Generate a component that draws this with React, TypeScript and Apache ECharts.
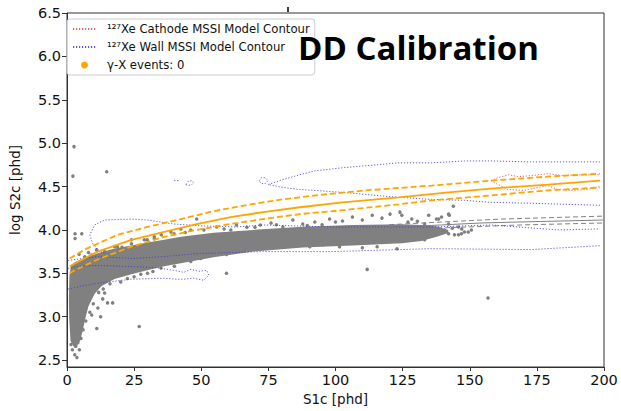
import React, { useEffect, useRef } from "react";
import * as echarts from "echarts";

// ---------- data (S1c [phd], log S2c [phd]) ----------
const xTicks = [0, 25, 50, 75, 100, 125, 150, 175, 200];
const yTicks = [2.5, 3.0, 3.5, 4.0, 4.5, 5.0, 5.5, 6.0, 6.5];

const CATHODE = "¹²⁷Xe Cathode MSSI Model Contour";
const WALL = "¹²⁷Xe Wall MSSI Model Contour";
const GAMMA = "γ-X events: 0";

// orange model band (median and ±)
const orangeMid = [
  [1.0, 3.58], [2.2, 3.602], [11.4, 3.75], [24.0, 3.886], [36.2, 3.977], [48.3, 4.068],
  [60.9, 4.148], [73.1, 4.205], [86.7, 4.261], [102.6, 4.318], [123.6, 4.375],
  [142.1, 4.432], [157.9, 4.477], [179.0, 4.523], [198.5, 4.568],
];
const orangeUp = [
  [1.0, 3.67], [2.2, 3.693], [6.6, 3.773], [11.4, 3.841], [18.8, 3.943], [29.9, 4.034],
  [42.4, 4.125], [54.6, 4.216], [68.3, 4.295], [80.4, 4.352], [92.6, 4.398],
  [111.1, 4.455], [135.8, 4.511], [157.9, 4.568], [179.0, 4.614], [198.5, 4.648],
];
const orangeLow = [
  [1.0, 3.5], [2.2, 3.523], [11.4, 3.659], [24.0, 3.807], [36.2, 3.92], [48.3, 4.0],
  [60.9, 4.068], [73.1, 4.125], [86.7, 4.182], [102.6, 4.227], [123.6, 4.295],
  [135.8, 4.341], [157.9, 4.398], [179.0, 4.455], [198.5, 4.489],
];

// gray model band
const grayMid = [[120, 4.03], [139.5, 4.057], [154.2, 4.08], [176.4, 4.097], [199.6, 4.114]];
const grayUp = [[120, 4.06], [139.5, 4.091], [161.6, 4.125], [199.6, 4.159]];
const grayLow = [[120, 4.0], [139.5, 4.023], [169.0, 4.057], [199.6, 4.08]];

// Wall contours (blue)
const wallA = [
  [198.5, 4.284], [172.7, 4.307], [157.9, 4.318], [148.0, 4.341], [135.8, 4.352],
  [123.6, 4.375], [111.1, 4.409], [102.6, 4.432], [92.6, 4.455], [86.7, 4.466],
  [80.4, 4.489], [74.9, 4.523], [80.4, 4.58], [86.7, 4.636], [92.6, 4.682],
  [102.6, 4.716], [111.1, 4.739], [123.6, 4.773], [135.8, 4.773], [148.0, 4.795],
  [157.9, 4.795], [172.7, 4.784], [198.5, 4.784],
];
const wallA2 = [
  [71.6, 4.568], [72.3, 4.602], [73.8, 4.602], [74.9, 4.568], [73.8, 4.534], [72.3, 4.534], [71.6, 4.568],
];
const wallBits1 = [[39.9, 4.568], [41.7, 4.568]];
const wallBits2 = [
  [44.3, 4.523], [45.0, 4.557], [46.5, 4.568], [47.2, 4.545], [46.5, 4.523], [45.0, 4.511], [44.3, 4.523],
];
const wallBTop = [
  [14.0, 3.727], [11.4, 3.773], [9.6, 3.841], [8.5, 3.943], [10.3, 4.057], [14.0, 4.114],
  [24.0, 4.125], [29.9, 4.114], [39.9, 4.068], [50.9, 4.045], [63.1, 4.034], [73.1, 4.057],
  [98.9, 4.034], [135.8, 4.034], [157.9, 4.057], [182.7, 4.0], [198.5, 4.011],
];
const wallBBottom = [
  [0.4, 3.648], [11.4, 3.693], [24.0, 3.67], [36.2, 3.693], [48.3, 3.727], [73.1, 3.75],
  [98.9, 3.75], [135.8, 3.784], [172.7, 3.773], [198.5, 3.818],
];
const wallC = [
  [0.4, 3.318], [5.5, 3.352], [11.4, 3.386], [24.0, 3.432], [36.2, 3.443], [40.6, 3.432],
  [43.5, 3.432], [47.2, 3.443], [50.9, 3.42], [52.8, 3.477], [52.0, 3.534], [49.1, 3.523],
  [46.1, 3.545], [43.5, 3.511], [39.9, 3.534], [32.5, 3.568], [21.4, 3.58], [10.3, 3.591],
  [4.8, 3.58], [0.4, 3.557],
];

// Cathode contours (red)
const cathodeUp = [
  [157.9, 4.568], [160.5, 4.602], [164.6, 4.636], [167.9, 4.614], [172.7, 4.625],
  [179.0, 4.648], [184.9, 4.625], [191.1, 4.636], [198.5, 4.636],
];
const cathodeLow = [
  [157.9, 4.568], [160.5, 4.523], [164.2, 4.466], [170.1, 4.455], [175.3, 4.489],
  [179.0, 4.511], [182.7, 4.466], [187.5, 4.455], [193.7, 4.466], [198.5, 4.5],
];

// dense DD event band (outline), upper edge left→right, lower edge right→left
const bandUpper = [
  [0.7, 3.2], [0.9, 3.466], [1.4, 3.58], [3.0, 3.63], [6.6, 3.675], [11.4, 3.73],
  [17.7, 3.786], [24.0, 3.82], [29.9, 3.855], [36.2, 3.888], [42.4, 3.92], [54.6, 3.966],
  [69.4, 4.0], [87.8, 4.036], [106.3, 4.058], [124.7, 4.066], [132.0, 4.058], [138.0, 4.04],
  [142.0, 4.0],
];
const bandLower = [
  [142.0, 3.965], [138.0, 3.925], [132.0, 3.872], [124.7, 3.845], [106.3, 3.82], [87.8, 3.797],
  [69.4, 3.752], [54.6, 3.684], [42.4, 3.616], [36.2, 3.582], [29.9, 3.536], [24.0, 3.49],
  [17.7, 3.435], [12.9, 3.355], [10.3, 3.265], [8.0, 3.12], [6.8, 2.98], [5.8, 2.83],
  [4.6, 2.7], [2.8, 2.64], [1.3, 2.72], [0.8, 3.0],
];

// individual DD events around the band
const ddPoints = [
  [2.6, 4.96], [2.2, 4.62], [14.8, 4.67], [3.0, 3.955], [5.5, 3.955], [3.0, 3.9],
  [6.6, 3.69], [9.0, 3.71], [14.0, 3.75], [17.7, 3.81], [20.5, 3.8], [24.0, 3.84],
  [24.0, 3.886], [18.8, 3.807], [15.1, 3.727], [28.8, 3.886], [29.9, 3.886], [32.5, 3.92],
  [32.5, 3.898], [35.1, 3.943], [38.7, 3.977], [39.9, 3.955], [42.4, 4.011], [46.1, 4.0],
  [48.3, 4.125], [44.0, 3.97], [51.0, 4.0], [4.5, 3.72], [8.0, 3.74], [11.0, 3.77],
  [55.7, 4.034], [63.1, 4.057], [58.5, 4.01], [67.0, 4.03], [72.0, 4.057], [76.0, 4.08],
  [80.4, 4.034], [84.1, 4.114], [87.8, 4.068], [92.3, 4.091], [97.8, 4.125], [100.0, 4.091],
  [95.0, 4.06], [61.0, 4.0], [70.0, 4.03], [78.0, 4.06], [89.5, 4.05],
  [102.6, 4.102], [106.3, 4.148], [110.0, 4.114], [113.7, 4.17], [117.3, 4.136],
  [120.3, 4.182], [124.0, 4.205], [124.7, 4.17], [128.4, 4.125], [133.2, 4.068],
  [134.7, 4.17], [137.6, 4.125], [138.4, 4.125], [139.5, 4.148], [142.1, 4.182],
  [142.4, 4.17], [143.9, 4.273], [142.1, 4.068], [145.8, 4.034], [140.6, 4.0],
  [148.0, 3.977], [150.6, 4.0], [149.4, 3.977], [144.3, 3.943], [145.8, 3.943],
  [146.9, 3.955], [136.9, 3.955], [142.1, 3.955], [133.2, 3.886], [122.9, 3.784],
  [115.5, 3.807], [110.0, 3.795], [101.5, 3.807], [127.0, 4.09], [130.5, 4.1],
  [143.5, 4.02], [147.0, 4.01], [139.0, 3.97],
  [95.2, 3.83], [90.4, 3.807], [80.4, 3.807], [69.4, 3.784], [65.7, 3.773], [59.4, 3.716],
  [55.7, 3.727], [49.8, 3.67], [46.1, 3.636], [44.6, 3.693], [40.0, 3.58], [35.0, 3.56],
  [30.0, 3.5], [25.0, 3.46], [20.0, 3.4], [16.0, 3.38], [22.5, 3.44], [27.5, 3.49],
  [32.0, 3.52], [13.5, 3.32], [11.8, 3.28],
  [59.4, 3.5], [111.8, 3.545], [156.8, 3.216],
  [13.3, 3.205], [15.1, 3.159], [17.0, 3.159], [14.0, 3.273], [11.1, 2.864], [26.9, 2.886],
  [11.5, 3.1], [12.5, 3.0], [9.8, 3.15],
  [2.9, 2.56], [3.7, 2.53], [4.6, 2.62], [3.3, 2.66], [5.2, 2.75], [6.0, 2.85],
  [7.0, 2.95], [8.5, 3.05], [9.2, 3.02], [2.0, 2.62], [4.0, 2.7], [1.5, 2.68],
];
const gammaEvents: number[][] = [];

// ---------- styles ----------
const ORANGE = "#FFA500";
const GRAY = "#808080";
const BLUE = "rgba(70,60,210,0.85)";
const RED = "rgba(225,70,70,0.85)";
const AXIS = "#333";
const FONT = "DejaVu Sans";

function lineSeries(name: string, data: number[][], color: string, width: number, type: any, z = 5) {
  return {
    name,
    type: "line",
    data,
    symbol: "none",
    showSymbol: false,
    smooth: false,
    z,
    lineStyle: { color, width, type },
    itemStyle: { color },
    emphasis: { disabled: true },
  };
}

export default function App() {
  const ref = useRef<HTMLDivElement>(null);
  useEffect(() => {
    if (!ref.current) return;
    const chart = echarts.init(ref.current, undefined, { renderer: "svg" });
    const dotted = [1.2, 1.8];
    const option: any = {
      animation: false,
      backgroundColor: "#fff",
      title: {
        text: "DD Calibration",
        left: 293,
        top: 26,
        textStyle: { fontFamily: "Open Sans", fontWeight: "bold", fontSize: 33, color: "#000" },
      },
      legend: {
        left: 67,
        top: 19,
        orient: "vertical",
        data: [
          { name: CATHODE, itemStyle: { opacity: 0 } },
          { name: WALL, itemStyle: { opacity: 0 } },
          { name: GAMMA, icon: "circle" },
        ],
        itemWidth: 23,
        itemHeight: 7,
        itemGap: 4,
        padding: [3, 5, 3, 5],
        backgroundColor: "rgba(255,255,255,0.85)",
        borderColor: "#ccc",
        borderWidth: 1,
        borderRadius: 3,
        textStyle: {
          fontFamily: FONT,
          fontSize: 11.7,
          lineHeight: 14,
          color: "#111",
          padding: [0, 0, 0, 6],
        },
      },
      grid: {
        left: 62,
        right: 17,
        top: 13,
        bottom: 39,
        show: true,
        borderColor: AXIS,
        borderWidth: 1,
        backgroundColor: "transparent",
      },
      xAxis: {
        type: "value",
        min: 0,
        max: 200,
        interval: 25,
        name: "S1c [phd]",
        nameLocation: "middle",
        nameGap: 25,
        nameTextStyle: { fontFamily: FONT, fontSize: 13.5, color: "#111" },
        axisLine: { show: true, lineStyle: { color: AXIS } },
        axisTick: { show: true, length: 4, lineStyle: { color: AXIS }, customValues: xTicks },
        axisLabel: { fontFamily: FONT, fontSize: 14.5, color: "#111", margin: 5, customValues: xTicks },
        splitLine: { show: false },
      },
      yAxis: {
        type: "value",
        min: 2.42,
        max: 6.5,
        name: "log S2c [phd]",
        nameLocation: "middle",
        nameGap: 45,
        nameRotate: 90,
        nameTextStyle: { fontFamily: FONT, fontSize: 13.5, color: "#111" },
        axisLine: { show: true, lineStyle: { color: AXIS } },
        axisTick: { show: true, length: 5, lineStyle: { color: AXIS }, customValues: yTicks },
        axisLabel: {
          fontFamily: FONT,
          fontSize: 14.5,
          color: "#111",
          margin: 6,
          customValues: yTicks,
          formatter: (v: number) => v.toFixed(1),
        },
        splitLine: { show: false },
      },
      series: [
        {
          type: "custom",
          name: "band",
          coordinateSystem: "cartesian2d",
          data: [[50, 3.8]],
          z: 1,
          silent: true,
          renderItem: (_p: any, api: any) => {
            const pts = [...bandUpper, ...bandLower].map((p) => api.coord(p));
            return { type: "polygon", shape: { points: pts }, style: { fill: GRAY } };
          },
        },
        {
          type: "scatter",
          name: "DD",
          data: ddPoints,
          symbolSize: 3.5,
          z: 2,
          itemStyle: { color: GRAY, opacity: 1 },
          emphasis: { disabled: true },
        },
        {
          type: "scatter",
          name: GAMMA,
          data: gammaEvents,
          symbolSize: 6,
          itemStyle: { color: ORANGE, opacity: 1 },
        },
        lineSeries("grayMid", grayMid, GRAY, 1, "solid", 3),
        lineSeries("grayUp", grayUp, GRAY, 1, [5, 3], 3),
        lineSeries("grayLow", grayLow, GRAY, 1, [5, 3], 3),
        lineSeries(WALL, wallA, BLUE, 1, dotted),
        lineSeries(WALL, wallA2, BLUE, 1, dotted),
        lineSeries(WALL, wallBits1, BLUE, 1, dotted),
        lineSeries(WALL, wallBits2, BLUE, 1, dotted),
        lineSeries(WALL, wallBTop, BLUE, 1, dotted),
        lineSeries(WALL, wallBBottom, BLUE, 1, dotted),
        lineSeries(WALL, wallC, BLUE, 1, dotted),
        lineSeries(CATHODE, cathodeUp, RED, 1, dotted),
        lineSeries(CATHODE, cathodeLow, RED, 1, dotted),
        lineSeries("orangeMid", orangeMid, ORANGE, 1.8, "solid", 6),
        lineSeries("orangeUp", orangeUp, ORANGE, 1.8, [6, 3], 6),
        lineSeries("orangeLow", orangeLow, ORANGE, 1.8, [6, 3], 6),
      ],
      graphic: [
        {
          type: "line",
          shape: { x1: 288, y1: 7, x2: 288, y2: 12 },
          style: { stroke: "#000", lineWidth: 1.5 },
          silent: true,
        },
      ],
    };
    chart.setOption(option);
    return () => chart.dispose();
  }, []);
  return (
    <div
      ref={ref}
      style={{
        position: "fixed",
        left: 0,
        top: 0,
        width: 621,
        height: 411,
        background: "#fff",
        fontVariantLigatures: "none",
      }}
    />
  );
}
